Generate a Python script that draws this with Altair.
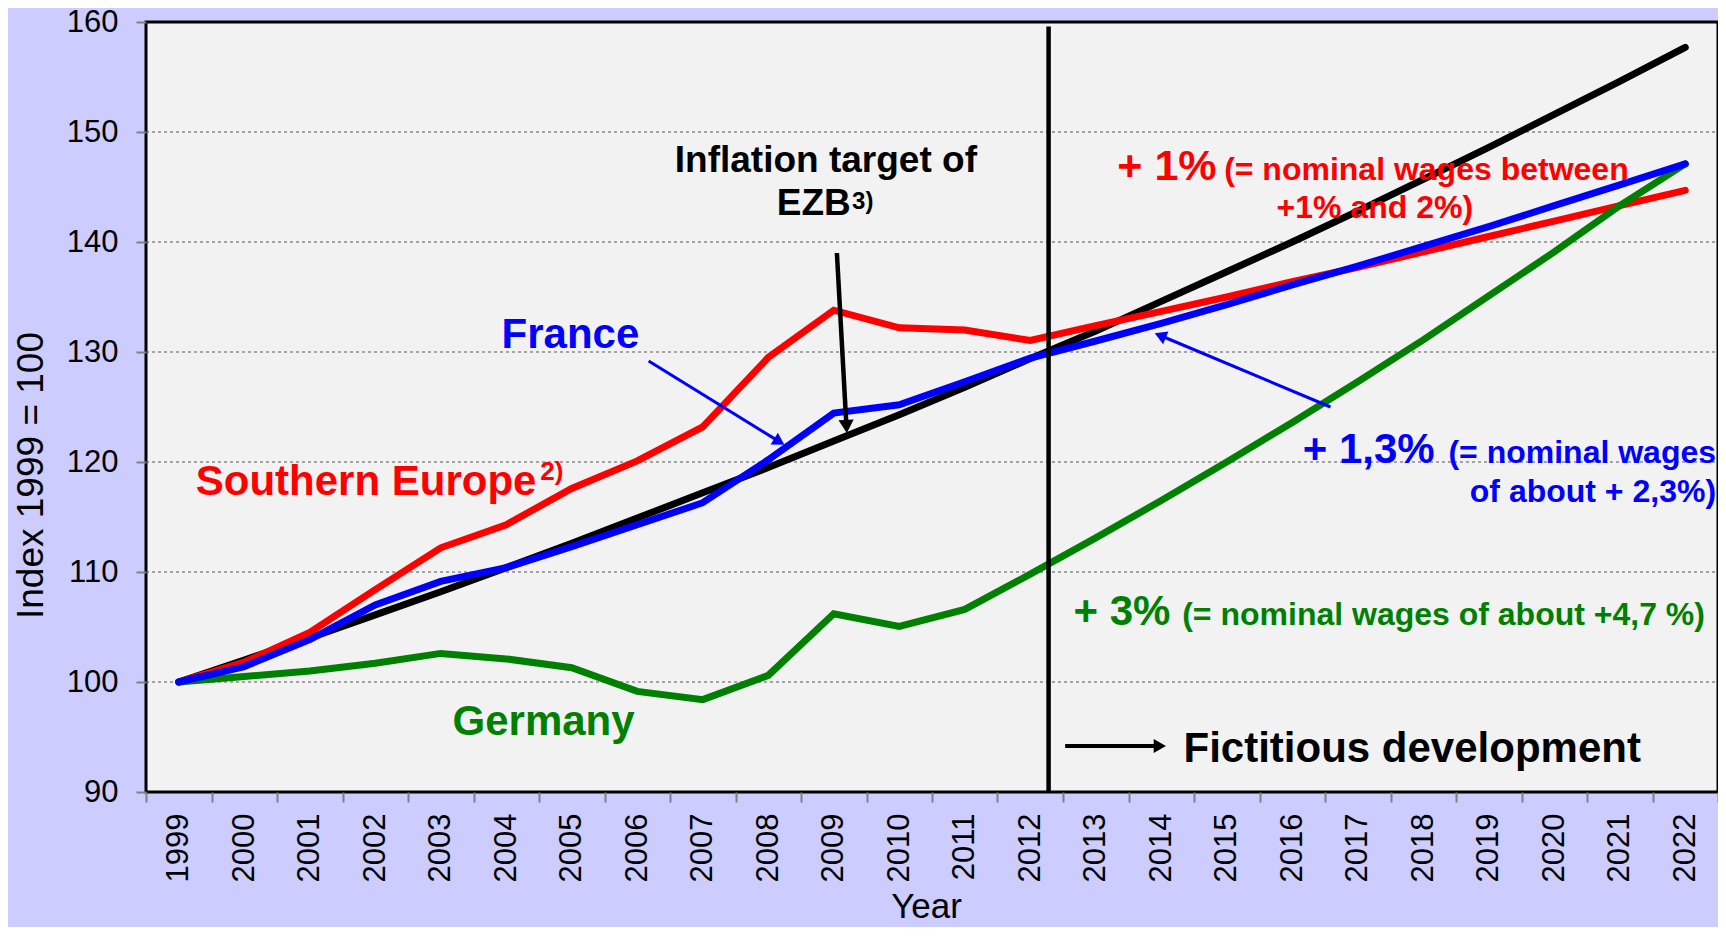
import altair as alt
import pandas as pd

# ---------------- data ----------------
years = list(range(1999, 2023))
target = [100.0, 102.0, 104.0, 106.1, 108.2, 110.4, 112.6, 114.9, 117.2, 119.5, 121.9, 124.3,
          126.8, 129.4, 131.9, 134.6, 137.3, 140.0, 142.8, 145.7, 148.6, 151.6, 154.6, 157.7]
southern = [100.0, 101.8, 104.5, 108.4, 112.2, 114.3, 117.6, 120.1, 123.2, 129.5, 133.8, 132.2,
            132.0, 131.05, 132.4, 133.7, 135.0, 136.4, 137.7, 139.1, 140.5, 141.9, 143.3, 144.7]
france = [100.0, 101.4, 103.85, 107.0, 109.15, 110.4, 112.3, 114.3, 116.3, 120.2, 124.45, 125.2,
          127.3, 129.45, 131.0, 132.6, 134.3, 136.1, 137.8, 139.6, 141.4, 143.3, 145.2, 147.1]
germany = [100.0, 100.5, 101.0, 101.7, 102.6, 102.1, 101.3, 99.15, 98.4, 100.6, 106.2, 105.05,
           106.6, 109.8, 113.1, 116.5, 120.0, 123.6, 127.3, 131.1, 135.1, 139.1, 143.3, 147.1]

y_ticks = [90, 100, 110, 120, 130, 140, 150, 160]
grid_values = [100, 110, 120, 130, 140, 150]
x_ticks = [y - 0.5 for y in years] + [2022.5]

# annotation texts (anchor in data units: year, index value)
ann_text = ["Inflation target of", "EZB", "3)", "France", "Southern Europe", "2)", "Germany",
            "+ 1%", "(= nominal wages between", "+1% and 2%)",
            "+ 1,3%", "(= nominal wages", "of about + 2,3%)",
            "+ 3%", "(= nominal wages of about +4,7 %)", "Fictitious development"]
ann_x = [2008.88, 2009.26, 2009.28, 2004.98, 1999.26, 2004.52, 2004.57,
         2013.33, 2014.96, 2017.26,
         2016.16, 2022.47, 2022.47,
         2012.66, 2014.32, 2014.34]
ann_y = [146.36, 142.45, 143.0, 130.36, 117.0, 118.36, 95.18,
         145.64, 145.64, 142.18,
         119.91, 119.91, 116.36,
         105.18, 105.18, 92.73]

# arrows: tail, head centre
arr_x1 = [2009.048, 2006.174, 2016.584, 2012.533]
arr_y1 = [139.0, 129.18, 125.0, 94.18]
arr_x2 = [2009.194, 2008.169, 2013.985, 2013.978]
arr_y2 = [123.23, 121.85, 131.5, 94.18]

split_year = 2012.28
split_top = 159.6

# ---------------- styles ----------------
FONT = "Liberation Sans, Arial, sans-serif"
RED, BLUE, GREEN, BLACK = "#FF0000", "#0000FF", "#008000", "#000000"
ann_style = [  # colour, size, align
    (BLACK, 37, "center"), (BLACK, 37, "right"), (BLACK, 24, "left"),
    (BLUE, 42, "center"), (RED, 42, "left"), (RED, 26, "left"), (GREEN, 42, "center"),
    (RED, 43, "left"), (RED, 32, "left"), (RED, 32, "center"),
    (BLUE, 42, "left"), (BLUE, 32, "right"), (BLUE, 32, "right"),
    (GREEN, 42, "left"), (GREEN, 32, "left"), (BLACK, 42, "left"),
]
arr_style = [  # colour, stroke, head size, head angle
    (BLACK, 4.5, 230, 176.8), (BLUE, 3, 190, 121.7), (BLUE, 3, 190, 292.8), (BLACK, 4, 200, 90),
]

xs = alt.Scale(domain=[1998.5, 2022.5], nice=False, zero=False)
ys = alt.Scale(domain=[90, 160], nice=False, zero=False)

xaxis = alt.Axis(
    values=x_ticks, grid=False, domain=False,
    labelExpr="datum.value < 2022 ? format(datum.value + 0.5, 'd') : ''",
    labelAngle=270, labelOffset=32.7, labelPadding=11, labelFlush=False, labelOverlap=False,
    labelFont=FONT, labelFontSize=31, labelColor="#000000",
    tickSize=10, tickColor="#808080", tickWidth=2,
    title="Year", titleFont=FONT, titleFontSize=35, titleFontWeight="normal", titleColor="#000000",
    titleX=780, titleY=125, titleBaseline="alphabetic", titleAlign="center",
)
yaxis = alt.Axis(
    values=y_ticks, grid=False, domain=False,
    labelFont=FONT, labelFontSize=31, labelColor="#000000", labelPadding=18,
    tickSize=10, tickColor="#808080", tickWidth=2,
    title="Index 1999 = 100", titleFont=FONT, titleFontSize=37, titleFontWeight="normal",
    titleColor="#000000", titleAngle=270, titleX=-104, titleY=453,
    titleBaseline="alphabetic", titleAlign="center",
)


def X(f):
    return alt.X(f, type="quantitative", scale=xs, axis=xaxis)


def Y(f):
    return alt.Y(f, type="quantitative", scale=ys, axis=yaxis)


layers = []

# grid
grid_df = pd.DataFrame({"g": grid_values})
layers.append(alt.Chart(grid_df).mark_rule(color="#555555", strokeWidth=1, strokeDash=[3, 3]).encode(
    y=Y("g"), x=alt.value(0), x2=alt.value(1572)))

# series
for vals, col in [(target, BLACK), (southern, RED), (germany, GREEN), (france, BLUE)]:
    df = pd.DataFrame({"year": years, "value": vals})
    layers.append(alt.Chart(df).mark_line(color=col, strokeWidth=7, strokeCap="round").encode(
        x=X("year"), y=Y("value")))

# split line
split_df = pd.DataFrame({"sx": [split_year], "sy": [90], "sy2": [split_top]})
layers.append(alt.Chart(split_df).mark_rule(color=BLACK, strokeWidth=4.5).encode(
    x=X("sx"), y=Y("sy"), y2="sy2"))

# arrows
for i in range(len(arr_x1)):
    col, sw, hs, ang = arr_style[i]
    adf = pd.DataFrame({"ax": [arr_x1[i]], "ay": [arr_y1[i]], "ax2": [arr_x2[i]], "ay2": [arr_y2[i]]})
    layers.append(alt.Chart(adf).mark_rule(color=col, strokeWidth=sw).encode(
        x=X("ax"), y=Y("ay"), x2="ax2", y2="ay2"))
    layers.append(alt.Chart(adf).mark_point(shape="triangle-up", filled=True, opacity=1, color=col,
                                            size=hs, angle=ang, strokeWidth=0).encode(
        x=X("ax2"), y=Y("ay2")))

# annotation texts
for i in range(len(ann_text)):
    col, sz, al = ann_style[i]
    tdf = pd.DataFrame({"tx": [ann_x[i]], "ty": [ann_y[i]], "label": [ann_text[i]]})
    layers.append(alt.Chart(tdf).mark_text(align=al, baseline="alphabetic", font=FONT, fontSize=sz,
                                           fontWeight="bold", color=col).encode(
        x=X("tx"), y=Y("ty"), text="label:N"))

chart = alt.layer(*layers).properties(
    width=1572, height=770, background="#CCCCFF",
    padding={"left": 138, "top": 14, "right": 0, "bottom": 135},
    autosize=alt.AutoSizeParams(type="none"),
).configure_view(fill="#F2F2F2", stroke="#000000", strokeWidth=3)

chart.save("out.html", embed_options={"renderer": "svg", "actions": False})
